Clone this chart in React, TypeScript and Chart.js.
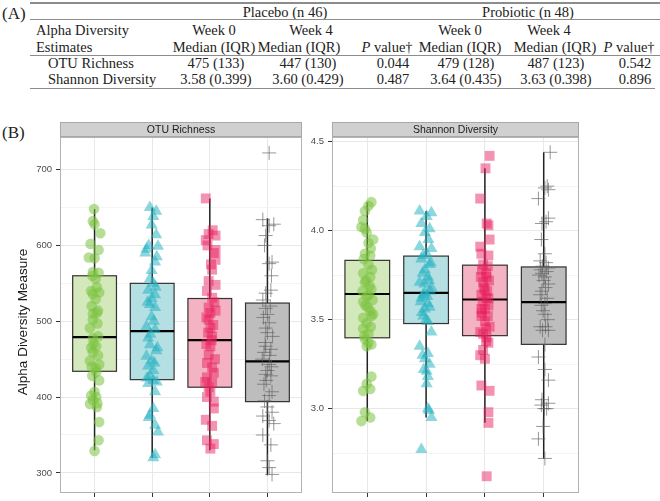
import React, { useEffect, useRef } from "react";
import { Chart, registerables } from "chart.js";
Chart.register(...registerables);

// ---------- Table (A) data ----------
const tableRowLabels = ["OTU Richness", "Shannon Diversity"];
const placeboW0 = ["475 (133)", "3.58 (0.399)"];
const placeboW4 = ["447 (130)", "3.60 (0.429)"];
const placeboP = ["0.044", "0.487"];
const probioticW0 = ["479 (128)", "3.64 (0.435)"];
const probioticW4 = ["487 (123)", "3.63 (0.398)"];
const probioticP = ["0.542", "0.896"];

// ---------- Panel (B) data ----------
const facetLabels = ["OTU Richness", "Shannon Diversity"];
const yAxisTitle = "Alpha Diversity Measure";

// OTU Richness: group order green, blue, red, gray
const otuG1 = [648,632,628,616,602,594,584,583,565,564,556,540,538,536,529,514,510,511,502,491,480,478,467,465,459,448,443,433,422,407,400,396,391,387,367,343,329,545,520,497,470,455,440,438,428,402,392,560];
const otuG1J = [-0.01,-0.03,0.0,0.10,-0.07,0.07,-0.10,0.0,-0.03,0.07,0.02,-0.06,0.08,-0.03,0.02,0.06,-0.03,0.04,-0.03,-0.08,0.06,-0.03,0.03,-0.06,-0.03,-0.08,0.08,0.03,0.08,0.0,0.03,-0.03,-0.08,0.04,0.08,0.07,0.0,0.04,-0.05,0.05,-0.02,0.06,-0.05,0.02,-0.04,-0.06,0.05,-0.04];
const otuG2 = [650,645,638,627,614,599,595,590,578,567,556,550,541,535,530,522,518,506,493,489,478,469,461,454,448,441,435,428,422,418,407,385,376,363,354,324,320,600,585,545,525,500,483,465,445,425,420,373];
const otuG2J = [-0.04,0.07,0.02,-0.01,0.07,0.10,-0.10,-0.12,0.05,-0.01,-0.04,0.02,-0.07,0.05,-0.01,-0.04,0.05,-0.01,-0.10,0.05,-0.07,-0.04,0.07,-0.10,-0.01,-0.07,0.02,-0.04,0.02,-0.07,0.05,0.02,-0.04,0.05,0.10,0.05,0.02,-0.06,0.08,0.06,-0.08,0.03,-0.03,0.09,0.04,-0.09,0.08,-0.06];
const otuG3 = [662,615,613,607,594,590,581,568,553,548,531,518,514,511,502,491,480,467,456,445,439,432,426,419,413,407,400,394,385,370,362,343,338,332,620,600,575,540,525,505,495,485,475,470,450,420];
const otuG3J = [-0.07,-0.02,0.10,-0.07,0.10,0.07,0.10,0.04,-0.02,0.10,0.04,-0.02,0.10,0.01,-0.02,0.01,0.04,0.01,-0.02,-0.05,0.04,0.07,-0.05,0.04,-0.02,0.01,-0.05,0.07,0.07,-0.07,0.04,-0.05,0.07,0.01,0.05,-0.04,0.02,-0.05,0.08,-0.06,0.06,-0.03,0.03,-0.06,0.09,-0.08];
const otuG4 = [722,634,628,626,613,578,576,541,537,528,517,509,498,491,485,467,463,459,443,435,430,428,417,407,402,387,380,369,365,350,337,316,307,298,600,560,520,505,480,472,455,450,440,422,395,375];
const otuG4J = [0.03,-0.08,0.11,0.03,-0.03,0.08,0.03,0.06,-0.03,-0.08,-0.03,0.0,0.03,-0.03,0.0,-0.03,0.06,-0.06,0.03,0.0,-0.03,0.06,-0.06,0.08,0.03,0.0,0.08,0.03,0.11,-0.08,0.06,0.0,0.03,0.08,-0.05,0.07,0.05,-0.07,0.09,-0.04,0.04,-0.09,0.07,-0.02,-0.05,-0.08];

const otuQ1 = [434, 423, 413, 394];
const otuMedian = [479, 487, 475, 447];
const otuQ3 = [560, 550, 530, 524];
const otuWhiskerLo = [330, 320, 330, 297];
const otuWhiskerHi = [648, 650, 662, 636];
const otuTicks = [300, 350, 400, 450, 500, 550, 600, 650, 700];
const otuMajor = [300, 400, 500, 600, 700];

// Shannon Diversity
const shG1 = [4.16,4.14,4.11,4.06,4.02,4.01,3.99,3.95,3.93,3.87,3.86,3.81,3.76,3.74,3.71,3.67,3.63,3.60,3.55,3.53,3.52,3.51,3.48,3.45,3.42,3.39,3.37,3.35,3.18,3.14,3.11,3.10,2.98,2.95,2.93,3.90,3.84,3.78,3.72,3.69,3.66,3.64,3.61,3.58,3.57,3.46,3.41,3.36];
const shG1J = [0.07,0.02,-0.04,-0.07,-0.10,-0.04,-0.01,0.10,0.02,-0.04,0.05,0.02,-0.07,0.05,-0.04,0.07,-0.01,-0.07,0.05,0.10,0.07,-0.07,-0.01,-0.07,0.02,-0.04,0.02,-0.01,0.07,-0.01,0.05,-0.07,-0.04,0.05,-0.10,0.06,-0.06,0.08,-0.02,0.04,-0.08,0.03,0.09,-0.03,0.01,0.06,-0.05,0.07];
const shG2 = [4.11,4.10,4.08,4.04,4.01,3.99,3.91,3.90,3.87,3.84,3.81,3.78,3.74,3.71,3.68,3.65,3.62,3.59,3.56,3.52,3.49,3.43,3.35,3.31,3.28,3.25,3.21,3.18,3.14,3.00,2.95,2.77,3.95,3.86,3.82,3.76,3.72,3.70,3.66,3.64,3.63,3.60,3.57,3.54,3.50,3.30,3.22,2.99];
const shG2J = [-0.11,0.09,0.01,-0.08,0.06,-0.02,-0.11,0.09,0.01,-0.08,0.06,-0.02,0.03,-0.11,0.09,-0.02,-0.08,0.03,-0.02,-0.05,0.03,0.09,-0.11,0.03,-0.02,0.06,0.01,0.03,0.01,0.03,0.09,-0.08,0.04,-0.05,0.08,-0.06,0.05,-0.03,0.07,-0.05,0.02,-0.09,0.06,-0.07,0.0,-0.06,-0.04,0.05];
const shG3 = [4.42,4.35,4.18,4.04,4.03,3.95,3.91,3.87,3.86,3.81,3.74,3.71,3.67,3.62,3.56,3.52,3.49,3.46,3.43,3.40,3.37,3.33,3.30,3.28,3.13,3.10,2.98,2.92,2.62,3.80,3.78,3.76,3.74,3.72,3.68,3.66,3.64,3.62,3.60,3.58,3.56,3.54,3.52,3.45,3.42,3.38];
const shG3J = [0.08,0.01,-0.08,0.03,0.06,0.08,-0.08,-0.06,0.06,-0.03,0.03,-0.03,0.0,0.06,-0.06,-0.06,0.0,0.08,-0.08,0.03,0.06,-0.03,-0.08,0.0,-0.06,0.08,0.06,0.06,0.03,0.05,-0.05,0.02,-0.07,0.07,-0.02,0.04,-0.06,0.02,-0.04,0.06,0.0,-0.05,0.05,0.02,-0.03,0.02];
const shG4 = [4.44,4.24,4.23,4.18,4.07,4.04,3.87,3.83,3.79,3.76,3.74,3.70,3.66,3.59,3.55,3.53,3.46,3.44,3.36,3.29,3.22,3.16,3.05,3.03,3.00,2.90,2.83,2.72,4.25,4.05,3.95,3.82,3.80,3.78,3.77,3.75,3.72,3.68,3.64,3.62,3.58,3.50,3.46,3.44,3.02,3.00];
const shG4J = [0.11,0.02,0.08,-0.09,0.08,-0.03,0.02,-0.06,0.08,-0.03,0.02,0.08,-0.03,0.02,-0.01,0.02,-0.06,0.08,0.02,-0.09,0.02,0.08,-0.03,0.08,0.05,-0.01,-0.09,0.02,0.06,0.04,-0.04,0.04,-0.02,-0.05,0.05,-0.08,0.0,0.03,-0.06,0.06,-0.04,0.07,0.03,-0.02,-0.04,0.01];

const shQ1 = [3.398, 3.478, 3.41, 3.361];
const shMedian = [3.644, 3.65, 3.613, 3.598];
const shQ3 = [3.833, 3.857, 3.806, 3.796];
const shWhiskerLo = [2.93, 2.95, 2.92, 2.72];
const shWhiskerHi = [4.16, 4.11, 4.35, 4.44];
const shTicks = [2.75, 3.0, 3.25, 3.5, 3.75, 4.0, 4.25, 4.5];
const shMajor = [3.0, 3.5, 4.0, 4.5];

// ---------- styles ----------
const pointStyles = ["circle", "triangle", "rect", "cross"];
const pointRadius = [5.3, 7, 7, 7];
const pointColors = ["rgba(124,194,64,0.55)", "rgba(34,176,192,0.52)", "rgba(233,30,92,0.48)", "rgba(95,95,95,0.65)"];
const boxFills = ["#d3e8bb", "#b4dfe3", "#f4b3c2", "#bdbdbd"];
const SANS = "'Liberation Sans', Arial, sans-serif";
const SERIF = "'Liberation Serif', 'Times New Roman', serif";

type PanelCfg = {
  values: number[][];
  jitter: number[][];
  q1: number[]; med: number[]; q3: number[]; lo: number[]; hi: number[];
  yMin: number; yMax: number; ticks: number[]; major: number[];
  fmt: (v: number) => string;
  yWidth: number; padRight: number;
  strip: string; title?: string;
};

function makePanel(canvas: HTMLCanvasElement, p: PanelCfg) {
  const isMajor = (v: number) => p.major.some((m) => Math.abs(m - v) < 1e-9);
  const panelPlugin = {
    id: "panelDecor",
    beforeDatasetsDraw(chart: any) {
      const { ctx, scales } = chart;
      const xs = scales.x, ys = scales.y;
      ctx.save();
      for (let i = 0; i < 4; i++) {
        const cx = xs.getPixelForValue(i);
        const hw = xs.getPixelForValue(i + 0.38) - cx;
        const yq1 = ys.getPixelForValue(p.q1[i]);
        const yq3 = ys.getPixelForValue(p.q3[i]);
        const ymed = ys.getPixelForValue(p.med[i]);
        const ylo = ys.getPixelForValue(p.lo[i]);
        const yhi = ys.getPixelForValue(p.hi[i]);
        ctx.strokeStyle = "#222";
        ctx.lineWidth = 1.5;
        ctx.beginPath();
        ctx.moveTo(cx, yhi); ctx.lineTo(cx, yq3);
        ctx.moveTo(cx, yq1); ctx.lineTo(cx, ylo);
        ctx.stroke();
        ctx.fillStyle = boxFills[i];
        ctx.fillRect(cx - hw, yq3, 2 * hw, yq1 - yq3);
        ctx.strokeStyle = "#333";
        ctx.lineWidth = 1.2;
        ctx.strokeRect(cx - hw, yq3, 2 * hw, yq1 - yq3);
        ctx.strokeStyle = "#000";
        ctx.lineWidth = 2.2;
        ctx.beginPath();
        ctx.moveTo(cx - hw, ymed); ctx.lineTo(cx + hw, ymed);
        ctx.stroke();
      }
      ctx.restore();
    },
    afterDraw(chart: any) {
      const { ctx, chartArea: a } = chart;
      ctx.save();
      ctx.strokeStyle = "#b3b3b3";
      ctx.lineWidth = 1;
      ctx.strokeRect(a.left + 0.5, a.top + 0.5, a.right - a.left - 1, a.bottom - a.top - 1);
      ctx.fillStyle = "#d0d0d0";
      ctx.fillRect(a.left, a.top - 15, a.right - a.left, 15);
      ctx.strokeStyle = "#a8a8a8";
      ctx.strokeRect(a.left + 0.5, a.top - 14.5, a.right - a.left - 1, 14);
      ctx.fillStyle = "#1a1a1a";
      ctx.font = `10.5px ${SANS}`;
      ctx.textAlign = "center";
      ctx.textBaseline = "middle";
      ctx.fillText(p.strip, (a.left + a.right) / 2, a.top - 7);
      if (p.title) {
        ctx.translate(23, 200);
        ctx.rotate(-Math.PI / 2);
        ctx.font = `13.5px ${SANS}`;
        ctx.fillStyle = "#1a1a1a";
        ctx.fillText(p.title, 0, 0);
      }
      ctx.restore();
    },
  };

  return new Chart(canvas, {
    type: "scatter",
    data: {
      datasets: p.values.map((vals, i) => ({
        data: vals.map((v, k) => ({ x: i + (p.jitter[i][k] ?? 0), y: v })),
        pointStyle: pointStyles[i] as any,
        pointRadius: pointRadius[i],
        backgroundColor: pointColors[i],
        borderColor: i === 3 ? pointColors[i] : "rgba(0,0,0,0)",
        borderWidth: i === 3 ? 1 : 0,
      })),
    },
    options: {
      animation: false,
      responsive: false,
      events: [],
      layout: { padding: { top: 15, right: p.padRight, left: 0, bottom: 0 } },
      plugins: { legend: { display: false }, tooltip: { enabled: false } },
      scales: {
        x: {
          type: "linear",
          min: -0.6,
          max: 3.6,
          afterBuildTicks: (s: any) => { s.ticks = [0, 1, 2, 3].map((v) => ({ value: v })); },
          ticks: { display: false },
          grid: { color: "#e8e8e8", lineWidth: 1, drawTicks: true, tickLength: 4, tickColor: "#333" },
          border: { display: false },
          afterFit: (s: any) => { s.height = 4; s.paddingLeft = 0; s.paddingRight = 0; s.paddingTop = 0; s.paddingBottom = 0; },
        },
        y: {
          type: "linear",
          min: p.yMin,
          max: p.yMax,
          afterBuildTicks: (s: any) => { s.ticks = p.ticks.map((v) => ({ value: v })); },
          ticks: {
            callback: (v: any) => (isMajor(Number(v)) ? p.fmt(Number(v)) : ""),
            font: { family: SANS, size: 9.5 },
            color: "#4d4d4d",
            padding: 4,
            autoSkip: false,
          },
          grid: {
            color: (c: any) => (isMajor(c.tick?.value) ? "#e8e8e8" : "#f4f4f4"),
            tickColor: (c: any) => (isMajor(c.tick?.value) ? "#333" : "rgba(0,0,0,0)"),
            tickLength: 4,
            lineWidth: 1,
          },
          border: { display: false },
          afterFit: (s: any) => { s.width = p.yWidth; s.paddingTop = 0; s.paddingBottom = 0; s.paddingLeft = 0; s.paddingRight = 0; },
        },
      },
    } as any,
    plugins: [panelPlugin],
  });
}

function Cell(props: { x: number; y: number; align?: "left" | "center"; size?: number; children: React.ReactNode }) {
  const { x, y, align = "center", size = 14.5, children } = props;
  return (
    <div
      style={{
        position: "absolute",
        left: x,
        top: y,
        transform: align === "center" ? "translate(-50%, -50%)" : "translate(0, -50%)",
        whiteSpace: "nowrap",
        fontFamily: SERIF,
        fontSize: size,
        lineHeight: 1,
        color: "#222",
      }}
    >
      {children}
    </div>
  );
}

function HLine(props: { x: number; y: number; w: number; h?: number }) {
  return <div style={{ position: "absolute", left: props.x, top: props.y, width: props.w, height: props.h ?? 1, background: "#8c8c8c" }} />;
}

export default function App() {
  const leftRef = useRef<HTMLCanvasElement>(null);
  const rightRef = useRef<HTMLCanvasElement>(null);

  useEffect(() => {
    const c1 = makePanel(leftRef.current!, {
      values: [otuG1, otuG2, otuG3, otuG4],
      jitter: [otuG1J, otuG2J, otuG3J, otuG4J],
      q1: otuQ1, med: otuMedian, q3: otuQ3, lo: otuWhiskerLo, hi: otuWhiskerHi,
      yMin: 273.5, yMax: 743, ticks: otuTicks, major: otuMajor,
      fmt: (v) => String(v),
      yWidth: 60, padRight: 3,
      strip: facetLabels[0], title: yAxisTitle,
    });
    const c2 = makePanel(rightRef.current!, {
      values: [shG1, shG2, shG3, shG4],
      jitter: [shG1J, shG2J, shG3J, shG4J],
      q1: shQ1, med: shMedian, q3: shQ3, lo: shWhiskerLo, hi: shWhiskerHi,
      yMin: 2.526, yMax: 4.526, ticks: shTicks, major: shMajor,
      fmt: (v) => v.toFixed(1),
      yWidth: 32, padRight: 81,
      strip: facetLabels[1],
    });
    return () => { c1.destroy(); c2.destroy(); };
  }, []);

  const rowsY = [63, 79];
  return (
    <div style={{ position: "absolute", left: 0, top: 0, width: 660, height: 501, background: "#fff", overflow: "hidden" }}>
      <Cell x={2} y={13} align="left" size={17}>(A)</Cell>
      <HLine x={30} y={2} w={630} h={2} />
      <Cell x={285} y={12}>Placebo (n 46)</Cell>
      <Cell x={528} y={12}>Probiotic (n 48)</Cell>
      <HLine x={30} y={19} w={630} />
      <Cell x={36} y={30} align="left">Alpha Diversity</Cell>
      <Cell x={214} y={30}>Week 0</Cell>
      <Cell x={311} y={30}>Week 4</Cell>
      <Cell x={460} y={30}>Week 0</Cell>
      <Cell x={549} y={30}>Week 4</Cell>
      <Cell x={36} y={47} align="left">Estimates</Cell>
      <Cell x={214} y={47}>Median (IQR)</Cell>
      <Cell x={299} y={47}>Median (IQR)</Cell>
      <Cell x={387} y={47}><i>P</i> value†</Cell>
      <Cell x={460} y={47}>Median (IQR)</Cell>
      <Cell x={555} y={47}>Median (IQR)</Cell>
      <Cell x={629} y={47}><i>P</i> value†</Cell>
      <HLine x={30} y={55} w={630} />
      {tableRowLabels.map((lab, r) => (
        <React.Fragment key={lab}>
          <Cell x={48} y={rowsY[r]} align="left">{lab}</Cell>
          <Cell x={216} y={rowsY[r]}>{placeboW0[r]}</Cell>
          <Cell x={308} y={rowsY[r]}>{placeboW4[r]}</Cell>
          <Cell x={393} y={rowsY[r]}>{placeboP[r]}</Cell>
          <Cell x={466} y={rowsY[r]}>{probioticW0[r]}</Cell>
          <Cell x={556} y={rowsY[r]}>{probioticW4[r]}</Cell>
          <Cell x={635} y={rowsY[r]}>{probioticP[r]}</Cell>
        </React.Fragment>
      ))}
      <HLine x={30} y={88} w={625} />
      <Cell x={2} y={132} align="left" size={17}>(B)</Cell>
      <canvas ref={leftRef} width={310} height={379} style={{ position: "absolute", left: 0, top: 122, width: 310, height: 379 }} />
      <canvas ref={rightRef} width={360} height={379} style={{ position: "absolute", left: 300, top: 122, width: 360, height: 379 }} />
    </div>
  );
}
